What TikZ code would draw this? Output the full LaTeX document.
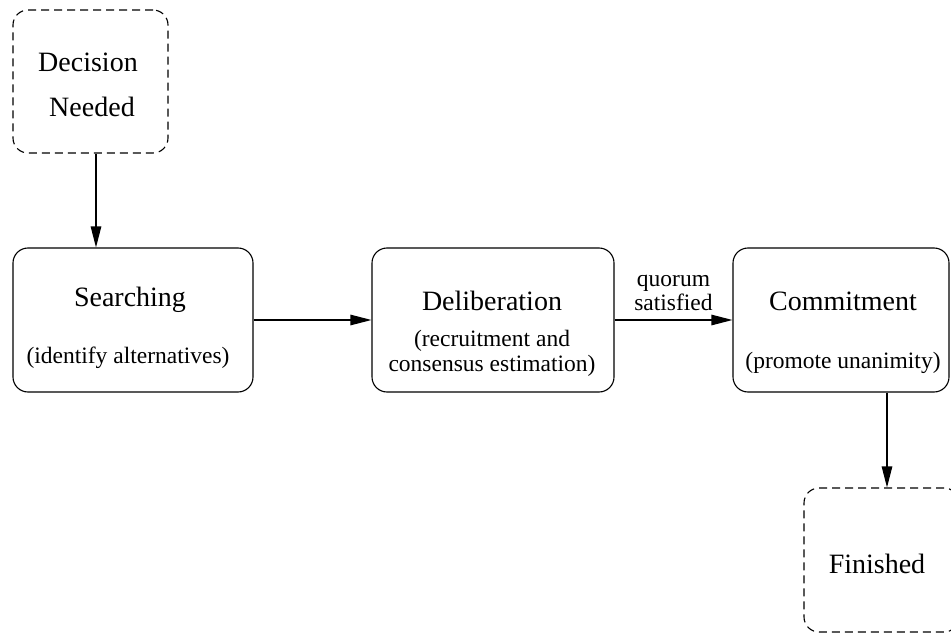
\documentclass[tikz,border=0pt]{standalone}
\usepackage{fontspec}
\setmainfont{Liberation Serif}
\usetikzlibrary{arrows.meta}

\begin{document}
\begin{tikzpicture}[x=1pt, y=-1pt,
  box/.style={draw, line width=1.1pt, rounded corners=15pt, inner sep=0pt},
  dashbox/.style={box, dash pattern=on 8pt off 5pt},
  title/.style={font=\fontsize{28}{32}\selectfont},
  sub/.style={font=\fontsize{23.5}{25}\selectfont, align=center},
  arr/.style={line width=1.1pt, -{Triangle[length=21pt, width=10.5pt]}}
]
\useasboundingbox (0,0) rectangle (951,634);
\clip (0,0) rectangle (951,634);

% state boxes
\node[dashbox, minimum width=155pt, minimum height=143pt] (dec) at (90.5,81.5) {};
\node[box, minimum width=240pt, minimum height=144pt] (search) at (133,320) {};
\node[box, minimum width=242pt, minimum height=144pt] (delib) at (493,320) {};
\node[box, minimum width=216pt, minimum height=144pt] (commit) at (841,320) {};
\node[dashbox, minimum width=155pt, minimum height=144pt] (fin) at (881.5,560) {};

% texts
\node[title] (decA) at (88,62) {Decision};
\node[title] (decB) at (92,107) {Needed};
\node[title] (searchT) at (130,300) {Searching};
\node[sub] (searchS) at (128,358) {(identify alternatives)};
\node[title] (delibT) at (492,301) {Deliberation};
\node[sub] (delibS) at (492,353) {(recruitment and\\consensus estimation)};
\node[title] (commitT) at (843,301) {Commitment};
\node[sub] (commitS) at (843,363) {(promote unanimity)};
\node[title] (finT) at (877,564) {Finished};

% connectors
\coordinate (dx) at (96,0);
\coordinate (fx) at (887,0);
\draw[arr] (dec.south -| dx) -- (search.north -| dx);
\draw[arr] (search.east) -- (delib.west);
\draw[arr] (delib.east) -- node[sub, above=5pt, font=\fontsize{23.5}{24}\selectfont] (quorum) {quorum\\satisfied} (commit.west);
\draw[arr] (commit.south -| fx) -- (fin.north -| fx);
\end{tikzpicture}
\end{document}
